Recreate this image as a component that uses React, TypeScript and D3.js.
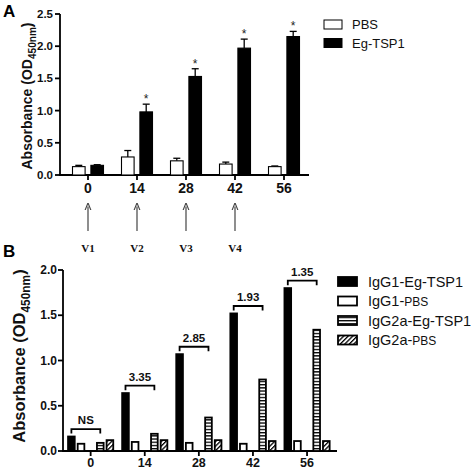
import React from "react";
import * as d3 from "d3";

// ---------- Panel A data ----------
const daysA = ["0", "14", "28", "42", "56"];
const seriesA = ["PBS", "Eg-TSP1"];
const pbsA = [0.13, 0.28, 0.22, 0.17, 0.13];
const pbsErrA = [0.02, 0.1, 0.04, 0.03, 0.01];
const tspA = [0.15, 0.98, 1.53, 1.97, 2.15];
const tspErrA = [0.01, 0.12, 0.12, 0.14, 0.08];
const sigA = [false, true, true, true, true];
const visitsA = ["V1", "V2", "V3", "V4"];
const ticksA = [0, 0.5, 1.0, 1.5, 2.0, 2.5];

// ---------- Panel B data ----------
const daysB = ["0", "14", "28", "42", "56"];
const seriesB = ["IgG1-Eg-TSP1", "IgG1-PBS", "IgG2a-Eg-TSP1", "IgG2a-PBS"];
const igg1Tsp = [0.17, 0.65, 1.08, 1.53, 1.81];
const igg1Pbs = [0.09, 0.11, 0.1, 0.09, 0.12];
const igg2aTsp = [0.1, 0.2, 0.38, 0.8, 1.35];
const igg2aPbs = [0.13, 0.13, 0.13, 0.12, 0.12];
const ratiosB = ["NS", "3.35", "2.85", "1.93", "1.35"];
const ticksB = [0, 0.5, 1.0, 1.5, 2.0];

const SANS = "Arial, 'Liberation Sans', Helvetica, sans-serif";
const SERIF = "'Times New Roman', 'Liberation Serif', serif";

export default function App() {
  // Panel A scales
  const yA = d3.scaleLinear().domain([0, 2.5]).range([175, 14]);
  const xA = d3.scaleBand().domain(daysA).range([63.5, 308.5]);
  const subA = d3.scaleBand().domain(seriesA).range([-15.5, 15.5]).paddingInner(0.315);
  const cA = (d: string) => (xA(d) as number) + xA.bandwidth() / 2;

  // Panel B scales
  const yB = d3.scaleLinear().domain([0, 2.0]).range([451, 270]);
  const xB = d3.scaleBand().domain(daysB).range([63.6, 334.1]);
  const subB = d3
    .scaleBand()
    .domain(["IgG1-Eg-TSP1", "IgG1-PBS", "gap", "IgG2a-Eg-TSP1", "IgG2a-PBS"])
    .range([-23.5, 23.5])
    .paddingInner(0.12);
  const cB = (d: string) => (xB(d) as number) + xB.bandwidth() / 2;
  const valsB = [igg1Tsp, igg1Pbs, igg2aTsp, igg2aPbs];
  const fillsB = ["#000", "#fff", "url(#hstripe)", "url(#diag)"];

  const axisStroke = 1.8;

  const ylabel = (x: number, y: number, fs: number) => (
    <text
      transform={`translate(${x},${y}) rotate(-90)`}
      textAnchor="middle"
      fontFamily={SANS}
      fontWeight="bold"
      fontSize={fs}
      fill="#111"
    >
      Absorbance (OD
      <tspan fontSize={fs * 0.72} dy={fs * 0.28}>
        450nm
      </tspan>
      <tspan dy={-fs * 0.28}>)</tspan>
    </text>
  );

  return (
    <svg
      width={472}
      height={471}
      style={{ position: "absolute", left: 0, top: 0, background: "#fff" }}
    >
      <defs>
        <pattern id="hstripe" width="4" height="3.2" patternUnits="userSpaceOnUse">
          <rect width="4" height="3.2" fill="#fff" />
          <rect y="0" width="4" height="1.3" fill="#000" />
        </pattern>
        <pattern
          id="diag"
          width="3.2"
          height="3.2"
          patternUnits="userSpaceOnUse"
          patternTransform="rotate(45)"
        >
          <rect width="3.2" height="3.2" fill="#fff" />
          <rect x="0" width="1.3" height="3.2" fill="#000" />
        </pattern>
        <marker id="arrow" viewBox="0 0 10 10" refX="5" refY="5" markerWidth="6" markerHeight="7" orient="auto">
          <path d="M0,1 L10,5 L0,9" fill="none" stroke="#444" strokeWidth="1.6" />
        </marker>
      </defs>

      {/* ================= Panel A ================= */}
      <text x={3} y={17} fontFamily={SANS} fontWeight="bold" fontSize={17} fill="#000">
        A
      </text>
      {ylabel(32, 96, 14)}

      {/* y axis */}
      <line x1={60} x2={60} y1={yA(2.5)} y2={yA(0)} stroke="#000" strokeWidth={axisStroke} />
      {ticksA.map((t) => (
        <g key={"ta" + t}>
          <line x1={55} x2={60} y1={yA(t)} y2={yA(t)} stroke="#000" strokeWidth={axisStroke} />
          <text
            x={53}
            y={yA(t) + 4}
            textAnchor="end"
            fontFamily={SANS}
            fontWeight="bold"
            fontSize={11.5}
            fill="#111"
          >
            {t.toFixed(1)}
          </text>
        </g>
      ))}
      {/* x axis */}
      <line x1={59.1} x2={309} y1={yA(0)} y2={yA(0)} stroke="#000" strokeWidth={axisStroke} />
      {daysA.map((d) => (
        <g key={"xa" + d}>
          <line x1={cA(d)} x2={cA(d)} y1={yA(0)} y2={yA(0) + 5} stroke="#000" strokeWidth={axisStroke} />
          <text
            x={cA(d)}
            y={193}
            textAnchor="middle"
            fontFamily={SANS}
            fontWeight="bold"
            fontSize={14}
            fill="#111"
          >
            {d}
          </text>
        </g>
      ))}

      {/* bars A */}
      {daysA.map((d, i) => {
        const xp = cA(d) + (subA("PBS") as number);
        const xt = cA(d) + (subA("Eg-TSP1") as number);
        const w = subA.bandwidth();
        return (
          <g key={"ba" + d}>
            {/* PBS */}
            <line
              x1={xp + w / 2}
              x2={xp + w / 2}
              y1={yA(pbsA[i])}
              y2={yA(pbsA[i] + pbsErrA[i])}
              stroke="#000"
              strokeWidth={1.3}
            />
            <line
              x1={xp + w / 2 - 3.5}
              x2={xp + w / 2 + 3.5}
              y1={yA(pbsA[i] + pbsErrA[i])}
              y2={yA(pbsA[i] + pbsErrA[i])}
              stroke="#000"
              strokeWidth={1.3}
            />
            <rect
              x={xp}
              y={yA(pbsA[i])}
              width={w}
              height={yA(0) - yA(pbsA[i])}
              fill="#fff"
              stroke="#000"
              strokeWidth={1.1}
            />
            {/* Eg-TSP1 */}
            <line
              x1={xt + w / 2}
              x2={xt + w / 2}
              y1={yA(tspA[i])}
              y2={yA(tspA[i] + tspErrA[i])}
              stroke="#000"
              strokeWidth={1.3}
            />
            <line
              x1={xt + w / 2 - 3.5}
              x2={xt + w / 2 + 3.5}
              y1={yA(tspA[i] + tspErrA[i])}
              y2={yA(tspA[i] + tspErrA[i])}
              stroke="#000"
              strokeWidth={1.3}
            />
            <rect
              x={xt}
              y={yA(tspA[i])}
              width={w}
              height={yA(0) - yA(tspA[i])}
              fill="#000"
              stroke="#000"
              strokeWidth={1.1}
            />
            {sigA[i] && (
              <text
                x={xt + w / 2}
                y={yA(tspA[i] + tspErrA[i]) - 1}
                textAnchor="middle"
                fontFamily={SANS}
                fontSize={12}
                fill="#222"
              >
                *
              </text>
            )}
          </g>
        );
      })}

      {/* arrows + visits */}
      {visitsA.map((v, i) => {
        const x = cA(daysA[i]);
        return (
          <g key={v}>
            <line
              x1={x}
              x2={x}
              y1={231}
              y2={206.5}
              stroke="#444"
              strokeWidth={1.2}
              markerEnd="url(#arrow)"
            />
            <text
              x={x}
              y={252}
              textAnchor="middle"
              fontFamily={SERIF}
              fontWeight="bold"
              fontSize={11}
              fill="#111"
            >
              {v}
            </text>
          </g>
        );
      })}

      {/* legend A */}
      {seriesA.map((s, i) => (
        <g key={"la" + s}>
          <rect
            x={324}
            y={20 + i * 18.5}
            width={18}
            height={9}
            fill={i === 0 ? "#fff" : "#000"}
            stroke="#000"
            strokeWidth={1}
          />
          <text x={352} y={29 + i * 18.5} fontFamily={SANS} fontSize={13} fill="#111">
            {s}
          </text>
        </g>
      ))}

      {/* ================= Panel B ================= */}
      <text x={3} y={257} fontFamily={SANS} fontWeight="bold" fontSize={17} fill="#000">
        B
      </text>
      {ylabel(25, 356, 16.5)}

      <line x1={63} x2={63} y1={yB(2.0)} y2={yB(0)} stroke="#000" strokeWidth={axisStroke} />
      {ticksB.map((t) => (
        <g key={"tb" + t}>
          <line x1={58} x2={63} y1={yB(t)} y2={yB(t)} stroke="#000" strokeWidth={axisStroke} />
          <text
            x={57}
            y={yB(t) + 4.2}
            textAnchor="end"
            fontFamily={SANS}
            fontWeight="bold"
            fontSize={12}
            fill="#111"
          >
            {t.toFixed(1)}
          </text>
        </g>
      ))}
      <line x1={62.1} x2={337} y1={yB(0)} y2={yB(0)} stroke="#000" strokeWidth={axisStroke} />
      {daysB.map((d) => (
        <g key={"xb" + d}>
          <line x1={cB(d)} x2={cB(d)} y1={yB(0)} y2={yB(0) + 5} stroke="#000" strokeWidth={axisStroke} />
          <text
            x={cB(d)}
            y={467}
            textAnchor="middle"
            fontFamily={SANS}
            fontWeight="bold"
            fontSize={12.5}
            fill="#111"
          >
            {d}
          </text>
        </g>
      ))}

      {/* bars B */}
      {daysB.map((d, i) => (
        <g key={"bb" + d}>
          {seriesB.map((s, k) => {
            const x = cB(d) + (subB(s) as number);
            const v = valsB[k][i];
            return (
              <rect
                key={s}
                x={x + 0.9}
                y={yB(v) + 0.9}
                width={subB.bandwidth() - 1.8}
                height={yB(0) - yB(v) - 0.9}
                fill={fillsB[k]}
                stroke="#000"
                strokeWidth={1.8}
              />
            );
          })}
          {(() => {
            const x1 = cB(d) + (subB("IgG1-Eg-TSP1") as number) + subB.bandwidth() / 2;
            const x2 = cB(d) + (subB("IgG2a-Eg-TSP1") as number) + subB.bandwidth() / 2;
            const yy = yB(igg1Tsp[i] + 0.072);
            return (
              <g>
                <path
                  d={`M${x1},${yy + 4.5}V${yy}H${x2}V${yy + 4.5}`}
                  fill="none"
                  stroke="#000"
                  strokeWidth={1.8}
                />
                <text
                  x={(x1 + x2) / 2}
                  y={yy - 5}
                  textAnchor="middle"
                  fontFamily={SANS}
                  fontWeight="bold"
                  fontSize={11.5}
                  fill="#111"
                >
                  {ratiosB[i]}
                </text>
              </g>
            );
          })()}
        </g>
      ))}

      {/* legend B */}
      {seriesB.map((s, k) => {
        const [pre, post] = s.endsWith("-PBS") ? [s.slice(0, -3), "PBS"] : [s, ""];
        return (
          <g key={"lb" + s}>
            <rect
              x={338}
              y={277 + k * 19.5}
              width={19}
              height={9}
              fill={fillsB[k]}
              stroke="#000"
              strokeWidth={1.8}
            />
            <text x={368} y={286.5 + k * 19.5} fontFamily={SANS} fontSize={14.5} fill="#111">
              {pre}
              {post && <tspan fontSize={12}>{post}</tspan>}
            </text>
          </g>
        );
      })}
    </svg>
  );
}
